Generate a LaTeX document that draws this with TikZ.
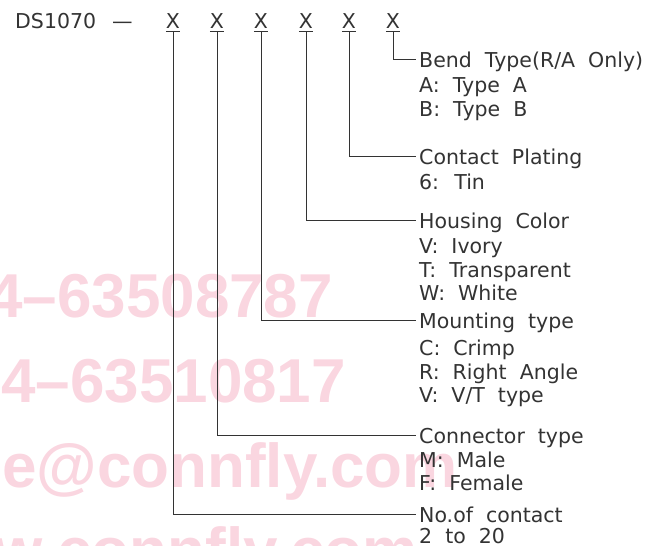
\documentclass[tikz,border=0pt]{standalone}
\usepackage{fontspec}
\setmainfont{DejaVu Sans}[WordSpace=2]
\newfontfamily\stampfont{Liberation Sans}
\definecolor{stamp}{RGB}{250,214,224}
\tikzset{
	lbl/.style={anchor=base west, inner xsep=3pt, inner ysep=0pt, text height=16pt, text depth=0pt,
		font=\fontsize{20.5}{24}\selectfont, text=black!80},
	code/.style={lbl, anchor=base, inner xsep=0pt, inner ysep=3pt},
	conn/.style={draw=black!80, line width=1pt},
	stampmark/.style={anchor=base west, inner sep=0pt, font=\stampfont\bfseries\fontsize{62}{62}\selectfont, text=stamp}
}
\begin{document}
	\begin{tikzpicture}[x=1pt,y=-1pt]
		\useasboundingbox (0,0) rectangle (664,546);
		% watermark behind the drawing
		\node[stampmark] (tel1) at (-12,317) {4–63508787};
		\node[stampmark] (tel2) at (1,402) {4–63510817};
		\node[stampmark] (mail) at (2,487) {e@connfly.com};
		\node[stampmark] (web) at (-6,571) {w.connfly.com};
		% part number
		\node[lbl, inner xsep=0pt] (part) at (15,28) {DS1070};
		\node[lbl, inner xsep=0pt] (dash) at (112,28) {—};
		\foreach \n/\xp in {1/173,2/217,3/261,4/306,5/349,6/393}
			\node[code] (x\n) at (\xp,28) {X};
		\foreach \n in {1,...,6}
			\draw[conn] (x\n.south west) -- (x\n.south east);
		% options
		\node[lbl] (bend) at (416,67) {Bend Type(R/A Only)};
		\node[lbl] (benda) at (416,92) {A: Type A};
		\node[lbl] (bendb) at (416,116) {B: Type B};
		\node[lbl] (plating) at (416,164) {Contact Plating};
		\node[lbl] (tin) at (416,189) {6: Tin};
		\node[lbl] (color) at (416,228) {Housing Color};
		\node[lbl] (ivory) at (416,253) {V: Ivory};
		\node[lbl] (clear) at (416,277) {T: Transparent};
		\node[lbl] (white) at (416,300) {W: White};
		\node[lbl] (mount) at (416,328) {Mounting type};
		\node[lbl] (crimp) at (416,355) {C: Crimp};
		\node[lbl] (angle) at (416,379) {R: Right Angle};
		\node[lbl] (vert) at (416,402) {V: V/T type};
		\node[lbl] (ctype) at (416,443) {Connector type};
		\node[lbl] (male) at (416,467) {M: Male};
		\node[lbl] (female) at (416,490) {F: Female};
		\node[lbl] (pins) at (416,522) {No.of contact};
		\node[lbl] (range) at (416,543) {2 to 20};
		\draw[conn] (x1.south) |- (pins.west);
		\draw[conn] (x2.south) |- (ctype.west);
		\draw[conn] (x3.south) |- (mount.west);
		\draw[conn] (x4.south) |- (color.west);
		\draw[conn] (x5.south) |- (plating.west);
		\draw[conn] (x6.south) |- (bend.west);
	\end{tikzpicture}
\end{document}
